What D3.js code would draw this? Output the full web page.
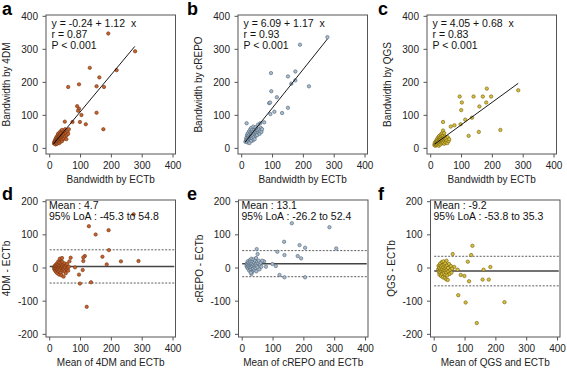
<!DOCTYPE html>
<html>
<head>
<meta charset="utf-8">
<script src="https://cdn.jsdelivr.net/npm/d3@7"></script>
<style>
  body { margin: 0; background: #fff; }
  svg { display: block; font-family: "Liberation Sans", Arial, sans-serif; }
</style>
</head>
<body>
<div id="container"></div>
<script>
/**
 * CONSTANTS AND GLOBALS
 * */
const width = 567,
  height = 368;

// labels
const letters = ["a", "b", "c", "d", "e", "f"];
const methods = ["4DM", "cREPO", "QGS"];
const xTicks = [0, 100, 200, 300, 400];
const yTicksTop = [0, 100, 200, 300, 400];
const yTicksBottom = [-200, -100, 0, 100, 200];

// regression fits (top row)
const fitIntercept = [-0.24, 6.09, 4.05];
const fitSlope = [1.12, 1.17, 0.68];
const fitR = [0.87, 0.93, 0.83];
const fitFrom = [11, 11, 13];
const fitTo = [276, 278, 284];

// Bland-Altman stats (bottom row)
const baMean = [4.7, 13.1, -9.2];
const baLower = [-45.3, -26.2, -53.8];
const baUpper = [54.8, 52.4, 35.3];

// [ECTb, method] pairs
const scatter4DM = [
  [190, 348], [277, 294], [130, 244], [217, 237], [161, 215], [95, 194], [60, 186], [152, 188],
  [176, 186], [89, 128], [95, 120], [92, 114], [103, 101], [152, 108], [117, 73], [174, 58],
  [98, 80], [74, 80], [49, 81],
  [14, 16], [15, 20], [16, 14], [17, 22], [18, 18], [18, 26], [19, 12], [20, 20], [20, 30],
  [21, 16], [22, 24], [22, 34], [23, 20], [24, 28], [24, 14], [25, 38], [25, 22], [26, 30],
  [27, 18], [27, 44], [28, 26], [28, 34], [29, 22], [30, 40], [30, 30], [31, 16], [32, 36],
  [32, 48], [33, 26], [34, 30], [34, 42], [35, 20], [36, 52], [36, 34], [37, 26], [38, 38],
  [38, 46], [39, 30], [40, 56], [40, 22], [41, 40], [42, 34], [43, 28], [44, 46], [45, 38],
  [46, 52], [47, 30], [48, 42], [50, 58], [50, 36], [52, 46], [54, 28], [55, 40], [58, 50],
  [60, 44], [62, 58]
];
const scatterCREPO = [
  [278, 337], [189, 314], [95, 228], [150, 218], [174, 233], [174, 206], [161, 196], [218, 188],
  [96, 173], [114, 155], [89, 137], [92, 139], [93, 104], [106, 111], [131, 107], [150, 123],
  [73, 79], [60, 76], [16, 76],
  [12, 20], [14, 26], [15, 32], [16, 22], [17, 40], [18, 28], [19, 18], [20, 34], [20, 46],
  [21, 24], [22, 38], [23, 30], [24, 52], [24, 20], [25, 42], [26, 34], [27, 26], [28, 48],
  [28, 58], [29, 36], [30, 28], [30, 44], [31, 62], [32, 38], [33, 50], [34, 30], [35, 44],
  [35, 56], [36, 24], [37, 40], [38, 66], [38, 50], [39, 34], [40, 46], [41, 56], [42, 28],
  [43, 42], [44, 52], [45, 64], [46, 38], [47, 48], [48, 58], [49, 44], [50, 40], [52, 54],
  [53, 72], [55, 48], [56, 58], [58, 44], [60, 52], [62, 62], [64, 50], [66, 58], [30, 22],
  [25, 16]
];
const scatterQGS = [
  [284, 176], [182, 181], [196, 157], [139, 157], [169, 157], [94, 157], [101, 139], [99, 116],
  [158, 127], [180, 139], [134, 93], [112, 87], [97, 73], [77, 70], [65, 66], [40, 80],
  [123, 38], [156, 50], [226, 56],
  [12, 10], [13, 14], [14, 18], [15, 8], [16, 12], [17, 22], [18, 16], [19, 10], [20, 26],
  [20, 14], [21, 20], [22, 30], [22, 12], [23, 24], [24, 16], [25, 34], [25, 20], [26, 8],
  [27, 28], [28, 14], [28, 38], [29, 22], [30, 18], [30, 32], [31, 26], [32, 12], [33, 42],
  [33, 20], [34, 30], [35, 24], [36, 16], [36, 36], [37, 46], [38, 22], [39, 30], [40, 18],
  [40, 38], [42, 26], [43, 32], [44, 14], [45, 22], [46, 36], [47, 28], [48, 18], [50, 30],
  [52, 24], [54, 16], [55, 34], [58, 22], [60, 28], [40, 54], [44, 46]
];

// [mean, difference] pairs
const ba4DM = [
  [127, 126], [272, 162], [149, 101], [191, 114], [192, 54], [288, 21], [231, 20], [185, 11],
  [171, 34], [114, 36], [109, 32], [109, 21], [68, 31], [82, 2], [107, -6], [95, -20],
  [98, -47], [134, -43], [120, -117],
  [14, 2], [15, -4], [16, 6], [17, 0], [18, -8], [19, 4], [20, 10], [20, -2], [21, -12],
  [22, 6], [23, 0], [24, 14], [24, -6], [25, -16], [26, 4], [27, 10], [27, -4], [28, 20],
  [29, 0], [30, -10], [30, 6], [31, -20], [32, 16], [33, 2], [34, -6], [35, 24], [35, 8],
  [36, -14], [37, 2], [38, 12], [38, -22], [39, -2], [40, 6], [41, 18], [42, -8], [43, 0],
  [44, 10], [45, -26], [46, -4], [47, 4], [48, 14], [49, -10], [50, 2], [52, -16], [53, 8],
  [55, -4], [56, 12], [58, 0], [60, -8], [62, 4], [64, 20], [33, 28], [40, 30]
];
const baCREPO = [
  [161, 135], [283, 123], [136, 79], [186, 69], [204, 61], [305, 59], [47, 57], [114, 49],
  [137, 39], [180, 36], [191, 29], [50, 42], [71, 20], [98, 12], [109, 6], [77, 4],
  [121, -21], [137, -28], [204, -28],
  [14, 6], [15, 14], [16, 2], [17, 10], [18, 20], [19, -2], [20, 8], [21, 16], [22, 4],
  [23, -8], [24, 12], [25, 24], [25, 0], [26, 8], [27, 18], [28, -4], [29, 10], [30, 28],
  [30, 2], [31, 14], [32, -12], [33, 6], [34, 20], [35, -2], [36, 10], [37, 26], [38, 4],
  [39, 16], [40, -6], [41, 8], [42, 22], [43, 0], [44, 12], [45, 30], [46, -10], [47, 6],
  [48, 18], [50, 2], [52, 14], [54, 22], [56, -4], [58, 10], [60, 16], [62, 4], [65, 22],
  [30, -18], [28, -14]
];
const baQGS = [
  [124, 67], [60, 42], [120, 39], [109, 19], [182, 3], [65, 3], [76, -5], [160, -5],
  [86, -21], [98, -24], [113, -40], [157, -35], [177, -35], [78, -82], [102, -104],
  [228, -103], [138, -166],
  [13, -4], [14, 6], [15, -12], [16, 0], [17, -20], [18, 10], [19, -6], [20, 14], [20, -14],
  [21, -2], [22, -24], [23, 4], [24, -10], [25, 18], [25, -18], [26, -4], [27, 8], [28, -28],
  [29, -12], [30, 2], [30, 20], [31, -6], [32, -16], [33, 10], [34, -30], [35, -2], [36, 14],
  [36, -20], [37, -8], [38, 4], [39, -34], [40, 22], [40, -14], [41, -4], [42, 8], [43, -22],
  [44, -36], [45, 0], [46, -10], [48, 12], [50, -18], [52, -6], [54, 6], [56, -14], [58, -2]
];

/**
 * LAYOUT
 * */
const fills = ["#c8622b", "#a9bccd", "#d8c03c"];
const strokes = ["#6b3313", "#4e6175", "#6e5d0c"];
const boxLeftTop = [46, 238, 427];
const boxLeftBottom = [46, 238.5, 430.5];
const letterX = [2, 187, 378];
const boxW = 129.5;
const xDomain = [-12, 408];
const font = 10;

let svg = d3
  .select("#container")
  .append("svg")
  .attr("width", width)
  .attr("height", height);

svg.append("rect").attr("width", width).attr("height", height).attr("fill", "#fff");

function frame(g, x, y, ticksY, left, top, bottom, xTitle, yTitle, letter, lx) {
  // box
  g.append("rect")
    .attr("x", left)
    .attr("y", top)
    .attr("width", boxW)
    .attr("height", bottom - top)
    .attr("fill", "none")
    .attr("stroke", "#555")
    .attr("stroke-width", 1);

  // x ticks
  g.selectAll(".xt")
    .data(xTicks)
    .join("line")
    .attr("x1", d => x(d))
    .attr("x2", d => x(d))
    .attr("y1", bottom)
    .attr("y2", bottom + 3.5)
    .attr("stroke", "#555");
  g.selectAll(".xl")
    .data(xTicks)
    .join("text")
    .attr("x", d => x(d))
    .attr("y", bottom + 15)
    .attr("text-anchor", "middle")
    .attr("font-size", font)
    .attr("fill", "#222")
    .text(d => d);

  // y ticks
  g.selectAll(".yt")
    .data(ticksY)
    .join("line")
    .attr("x1", left)
    .attr("x2", left - 3.5)
    .attr("y1", d => y(d))
    .attr("y2", d => y(d))
    .attr("stroke", "#555");
  g.selectAll(".yl")
    .data(ticksY)
    .join("text")
    .attr("x", left - 8)
    .attr("y", d => y(d) + 3.5)
    .attr("text-anchor", "end")
    .attr("font-size", font)
    .attr("fill", "#222")
    .text(d => d);

  // titles
  g.append("text")
    .attr("x", left + boxW / 2)
    .attr("y", bottom + 28.5)
    .attr("text-anchor", "middle")
    .attr("font-size", font)
    .attr("fill", "#222")
    .text(xTitle);
  g.append("text")
    .attr("transform", `translate(${left - 36},${(top + bottom) / 2}) rotate(-90)`)
    .attr("text-anchor", "middle")
    .attr("font-size", font)
    .attr("fill", "#222")
    .text(yTitle);

  g.append("text")
    .attr("x", lx)
    .attr("y", top)
    .attr("font-size", 18)
    .attr("font-weight", "bold")
    .attr("fill", "#000")
    .text(letter);
}

function dots(g, data, x, y, i) {
  g.append("g")
    .selectAll("circle")
    .data(data)
    .join("circle")
    .attr("cx", d => x(d[0]))
    .attr("cy", d => y(d[1]))
    .attr("r", 1.7)
    .attr("fill", fills[i])
    .attr("stroke", strokes[i])
    .attr("stroke-width", 0.6);
}

const scatters = [scatter4DM, scatterCREPO, scatterQGS];
const bas = [ba4DM, baCREPO, baQGS];

methods.forEach((m, i) => {
  /* top row: method vs ECTb */
  const left = boxLeftTop[i];
  const x = d3.scaleLinear().domain(xDomain).range([left, left + boxW]);
  const y = d3.scaleLinear().domain([-17, 404]).range([154, 15]);
  const g = svg.append("g");
  frame(g, x, y, yTicksTop, left, 15, 154, "Bandwidth by ECTb", "Bandwidth by " + m, letters[i], letterX[i]);
  dots(g, scatters[i], x, y, i);

  g.append("line")
    .attr("x1", x(fitFrom[i]))
    .attr("y1", y(fitIntercept[i] + fitSlope[i] * fitFrom[i]))
    .attr("x2", x(fitTo[i]))
    .attr("y2", y(fitIntercept[i] + fitSlope[i] * fitTo[i]))
    .attr("stroke", "#000")
    .attr("stroke-width", 0.9);

  const lines = [
    `y = ${fitIntercept[i].toFixed(2)} + ${fitSlope[i].toFixed(2)}  x`,
    `r = ${fitR[i].toFixed(2)}`,
    "P < 0.001"
  ];
  g.selectAll(".ann")
    .data(lines)
    .join("text")
    .attr("x", left + 5.5)
    .attr("y", (d, k) => 26.5 + k * 11)
    .attr("font-size", 10.5)
    .attr("fill", "#111")
    .style("white-space", "pre")
    .text(d => d);

  /* bottom row: Bland-Altman */
  const left2 = boxLeftBottom[i];
  const x2 = d3.scaleLinear().domain(xDomain).range([left2, left2 + boxW]);
  const y2 = d3.scaleLinear().domain([-208, 205]).range([337, 200]);
  const g2 = svg.append("g");
  frame(g2, x2, y2, yTicksBottom, left2, 200, 337, `Mean of ${m} and ECTb`, `${m} - ECTb`, letters[i + 3], letterX[i]);

  [baLower[i], baUpper[i]].forEach(v => {
    g2.append("line")
      .attr("x1", x2(0))
      .attr("x2", x2(404))
      .attr("y1", y2(v))
      .attr("y2", y2(v))
      .attr("stroke", "#333")
      .attr("stroke-width", 0.8)
      .attr("stroke-dasharray", "2,1.5");
  });
  g2.append("line")
    .attr("x1", x2(0))
    .attr("x2", x2(404))
    .attr("y1", y2(baMean[i]))
    .attr("y2", y2(baMean[i]))
    .attr("stroke", "#444")
    .attr("stroke-width", 1.5);

  dots(g2, bas[i], x2, y2, i);

  const lines2 = [`Mean : ${baMean[i]}`, `95% LoA : ${baLower[i]} to ${baUpper[i]}`];
  g2.selectAll(".ann")
    .data(lines2)
    .join("text")
    .attr("x", left2 + 3)
    .attr("y", (d, k) => 208.5 + k * 11)
    .attr("font-size", 10.5)
    .attr("fill", "#111")
    .text(d => d);
});
</script>
</body>
</html>
